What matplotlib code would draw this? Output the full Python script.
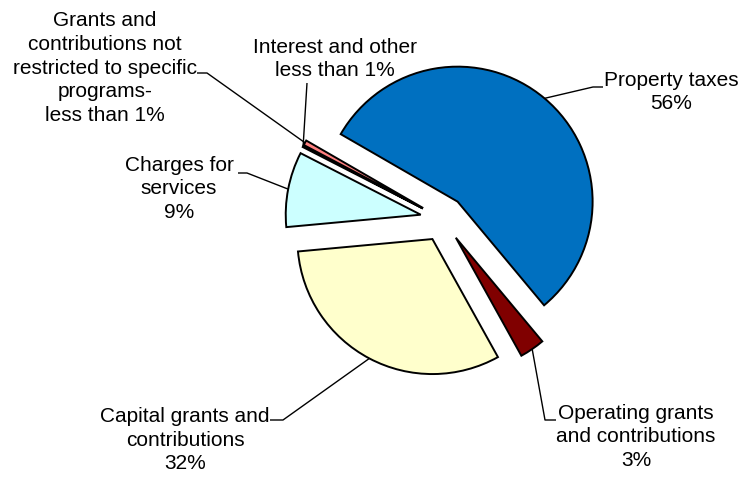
import numpy as np
import matplotlib
matplotlib.use("Agg")
import matplotlib.pyplot as plt

plt.rcParams['font.family'] = ['Liberation Sans', 'DejaVu Sans']

# Revenue sources (percent of total), drawn clockwise
categories = [
    "Property taxes",
    "Operating grants\nand contributions",
    "Capital grants and\ncontributions",
    "Charges for\nservices",
    "Interest and other",
    "Grants and\ncontributions not\nrestricted to specific\nprograms-",
]
values = [55.6, 3.0, 31.6, 9.0, 0.2, 0.6]
colors = ["#0070C0", "#800000", "#FFFFCC", "#CCFFFF", "#1F1F5F", "#FF8080"]

W, H = 741, 478
CX, CY, R = 443, 219, 135  # pie centre and radius in pixels


def px(x, y):
    """Pixel position -> data coordinates (1 unit = pie radius)."""
    return (x - CX) / R, (CY - y) / R


fig = plt.figure(figsize=(W / 100, H / 100), dpi=100)
ax = fig.add_axes([0, 0, 1, 1])

wedges, _ = ax.pie(
    values,
    colors=colors,
    startangle=150,
    counterclock=False,
    explode=[0.168] * len(values),
    radius=1.0,
    wedgeprops=dict(edgecolor="black", linewidth=1.4),
)

ax.set_aspect("auto")
ax.set_xlim(-CX / R, (W - CX) / R)
ax.set_ylim(-(H - CY) / R, CY / R)
ax.axis("off")


def label_text(i):
    v = values[i]
    pct = f"{v:.0f}%" if v >= 1 else "less than 1%"
    return f"{categories[i]}\n{pct}"


def anchor(i):
    w = wedges[i]
    mid = np.deg2rad((w.theta1 + w.theta2) / 2)
    cx, cy = w.center
    return cx + w.r * np.cos(mid), cy + w.r * np.sin(mid)


# label block centre (px) and leader-line bend points (px)
label_pos = [
    (671, 92),
    (636, 437),
    (185, 440),
    (179, 189),
    (335, 59),
    (105, 68),
]
leaders = [
    [(593, 87), (603, 87)],
    [(545, 420), (556, 420)],
    [(283, 420), (270, 420)],
    [(247, 173), (238, 173)],
    [(307, 83)],
    [(207, 73), (197, 73)],
]

for i in range(len(values)):
    x, y = px(*label_pos[i])
    ax.text(x, y, label_text(i), ha="center", va="center", fontsize=15,
            linespacing=1.33, color="black")
    pts = [anchor(i)] + [px(*p) for p in leaders[i]]
    xs, ys = zip(*pts)
    ax.plot(xs, ys, color="black", linewidth=1.0, solid_capstyle="butt")

fig.savefig("out.png", dpi=100, facecolor="white")
